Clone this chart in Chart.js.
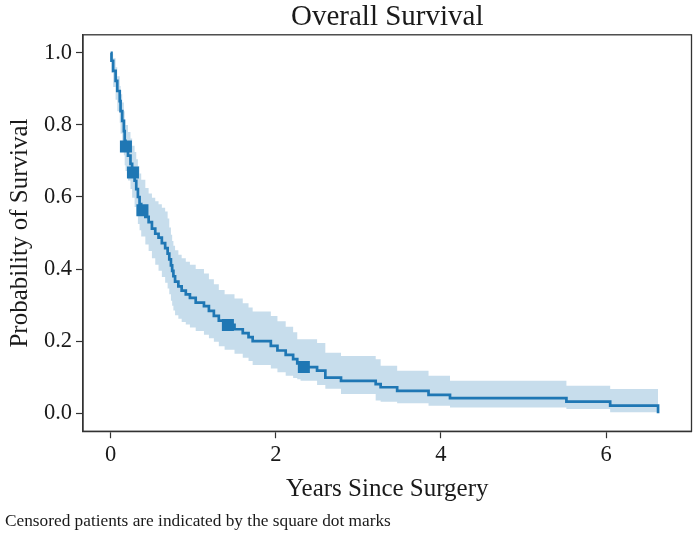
<!DOCTYPE html>
<html>
<head>
<meta charset="utf-8">
<script src="https://cdn.jsdelivr.net/npm/chart.js@4"></script>
<style>
  html, body { margin: 0; padding: 0; background: #fff; }
  canvas { display: block; }
</style>
</head>
<body>
<canvas id="km" width="700" height="534"></canvas>
<script>
// Kaplan-Meier estimate (years, probability)
const times = [0.00, 0.01, 0.03, 0.06, 0.08, 0.11, 0.12, 0.14, 0.16, 0.17, 0.18, 0.21, 0.24, 0.26, 0.29, 0.31, 0.33, 0.35, 0.37,
  0.42, 0.46, 0.50, 0.54, 0.58, 0.62, 0.66, 0.69, 0.71, 0.73, 0.745, 0.76, 0.78, 0.82, 0.86, 0.91, 0.96, 1.03, 1.13, 1.19,
  1.25, 1.31, 1.38, 1.50, 1.60, 1.67, 1.72, 1.94, 2.02, 2.12, 2.21, 2.26, 2.30, 2.50, 2.60, 2.79, 3.21, 3.27, 3.47, 3.85,
  4.11, 5.52, 6.05, 6.63];
const survival = [1.000, 0.978, 0.950, 0.922, 0.894, 0.866, 0.838, 0.811, 0.783, 0.756, 0.740, 0.715, 0.692, 0.668, 0.645, 0.622, 0.600, 0.580, 0.563,
  0.545, 0.530, 0.512, 0.498, 0.487, 0.472, 0.458, 0.443, 0.427, 0.410, 0.395, 0.380, 0.365, 0.352, 0.340, 0.330, 0.320, 0.307, 0.297, 0.284,
  0.270, 0.257, 0.245, 0.233, 0.222, 0.211, 0.200, 0.187, 0.174, 0.162, 0.150, 0.138, 0.128, 0.118, 0.099, 0.090, 0.081, 0.072, 0.062, 0.051,
  0.042, 0.032, 0.021, 0.000];
const ciUpper = [1.000, 0.998, 0.985, 0.960, 0.935, 0.908, 0.885, 0.862, 0.838, 0.815, 0.800, 0.780, 0.762, 0.742, 0.725, 0.705, 0.685, 0.665, 0.648,
  0.625, 0.610, 0.598, 0.588, 0.580, 0.570, 0.560, 0.540, 0.515, 0.495, 0.478, 0.465, 0.452, 0.440, 0.430, 0.420, 0.412, 0.400, 0.388, 0.372,
  0.358, 0.342, 0.330, 0.318, 0.305, 0.293, 0.282, 0.270, 0.255, 0.240, 0.225, 0.205, 0.205, 0.195, 0.168, 0.159, 0.150, 0.132, 0.118, 0.104,
  0.090, 0.076, 0.067, 0.000];
const ciLower = [1.000, 0.945, 0.905, 0.870, 0.838, 0.806, 0.776, 0.746, 0.716, 0.688, 0.672, 0.646, 0.622, 0.598, 0.572, 0.548, 0.525, 0.508, 0.490,
  0.468, 0.450, 0.430, 0.412, 0.395, 0.378, 0.362, 0.346, 0.330, 0.312, 0.298, 0.285, 0.272, 0.262, 0.253, 0.246, 0.238, 0.228, 0.218, 0.208,
  0.198, 0.186, 0.176, 0.165, 0.154, 0.145, 0.134, 0.124, 0.114, 0.104, 0.098, 0.094, 0.090, 0.078, 0.068, 0.053, 0.035, 0.032, 0.028, 0.021,
  0.016, 0.012, 0.003, 0.000];

// censored patients (square marks)
const censorTimes = [0.185, 0.27, 0.385, 1.42, 2.34];
const censorProbs = [0.740, 0.668, 0.563, 0.245, 0.128];

const xTicks = [0, 2, 4, 6];
const yTicks = [0.0, 0.2, 0.4, 0.6, 0.8, 1.0];

const blue = '#1f77b4';
const band = 'rgba(31, 119, 180, 0.25)';
const serif = '"Liberation Serif", "Times New Roman", serif';
const ink = '#1a1a1a';

const pts = (ys) => times.map((t, i) => ({ x: t, y: ys[i] }));

// matplotlib-style box around the axes
const frame = {
  id: 'frame',
  afterDatasetsDraw(chart) {
    const a = chart.chartArea, ctx = chart.ctx;
    ctx.save();
    ctx.strokeStyle = '#333';
    ctx.lineWidth = 1.3;
    ctx.strokeRect(a.left, a.top, a.right - a.left, a.bottom - a.top);
    ctx.restore();
  }
};

new Chart(document.getElementById('km'), {
  type: 'scatter',
  data: {
    datasets: [
      {
        label: 'Censored',
        data: censorTimes.map((t, i) => ({ x: t, y: censorProbs[i] })),
        pointStyle: 'rect', pointRadius: 8.5, pointHoverRadius: 8.5,
        backgroundColor: blue, borderColor: blue, borderWidth: 0,
        showLine: false,
      },
      {
        label: 'Survival',
        data: pts(survival),
        showLine: true, stepped: 'before',
        borderColor: blue, borderWidth: 2.7, pointRadius: 0, fill: false,
      },
      {
        label: 'CI upper',
        data: pts(ciUpper),
        showLine: true, stepped: 'before',
        borderWidth: 0, borderColor: 'rgba(0,0,0,0)', pointRadius: 0,
        backgroundColor: band, fill: '+1',
      },
      {
        label: 'CI lower',
        data: pts(ciLower),
        showLine: true, stepped: 'before',
        borderWidth: 0, borderColor: 'rgba(0,0,0,0)', pointRadius: 0, fill: false,
      },
    ],
  },
  options: {
    responsive: false,
    animation: false,
    layout: { padding: { left: 5, right: 4, top: 0, bottom: 0 } },
    plugins: {
      legend: { display: false },
      tooltip: { enabled: false },
      title: {
        display: true, text: 'Overall Survival', fullSize: false,
        color: ink, font: { family: serif, size: 29, weight: 'normal' },
        padding: { top: 0, bottom: 0 },
      },
      subtitle: {
        display: true, text: 'Censored patients are indicated by the square dot marks',
        position: 'bottom', align: 'start',
        color: ink, font: { family: serif, size: 17.3, weight: 'normal' },
        padding: { top: 4, bottom: 2 },
      },
    },
    scales: {
      x: {
        type: 'linear', min: -0.335, max: 7.035,
        afterBuildTicks: (s) => { s.ticks = xTicks.map(v => ({ value: v })); },
        afterFit: (s) => { s.height = 76; },
        ticks: { color: ink, font: { family: serif, size: 22.5 }, padding: 3, callback: (v) => String(v) },
        grid: { drawOnChartArea: false, drawTicks: true, tickLength: 7, tickColor: '#333', tickWidth: 1.2 },
        border: { display: true, color: '#333', width: 1.3 },
        title: { display: true, text: 'Years Since Surgery', color: ink, font: { family: serif, size: 25 }, padding: { top: 0, bottom: 3 } },
      },
      y: {
        type: 'linear', min: -0.05, max: 1.05,
        afterBuildTicks: (s) => { s.ticks = yTicks.map(v => ({ value: v })); },
        afterFit: (s) => { s.width = 78; },
        ticks: { color: ink, font: { family: serif, size: 22.5 }, padding: 4, callback: (v) => v.toFixed(1) },
        grid: { drawOnChartArea: false, drawTicks: true, tickLength: 7, tickColor: '#333', tickWidth: 1.2 },
        border: { display: true, color: '#333', width: 1.3 },
        title: { display: true, text: 'Probability of Survival', color: ink, font: { family: serif, size: 25 }, padding: { top: 0, bottom: 3 } },
      },
    },
  },
  plugins: [frame],
});
</script>
</body>
</html>
